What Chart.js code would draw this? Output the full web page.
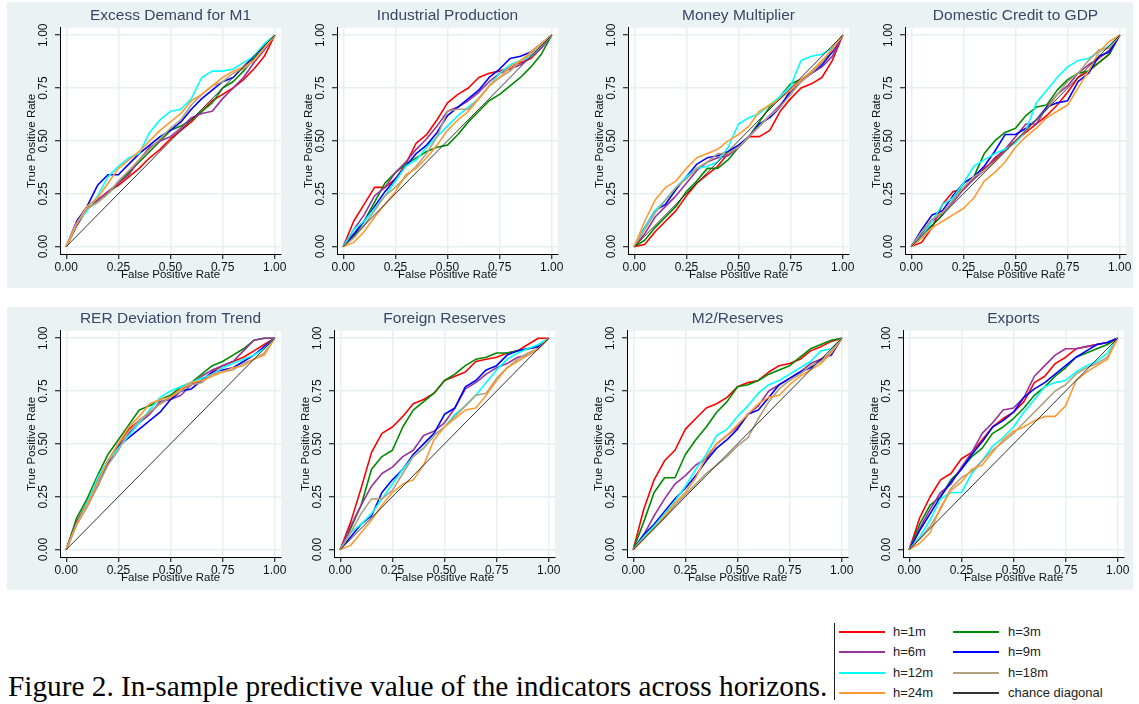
<!DOCTYPE html>
<html>
<head>
<meta charset="utf-8">
<script src="https://cdn.jsdelivr.net/npm/chart.js@4.4.1/dist/chart.umd.min.js"></script>
<style>
  body { margin: 0; width: 1139px; height: 704px; background: #fff; position: relative; overflow: hidden; font-family: "Liberation Sans", Arial, sans-serif; }
  .row { position: absolute; left: 7px; width: 1126px; background: #eaf2f3; }
  canvas { position: absolute; }
  .legend__bar { position: absolute; left: 834px; top: 623px; width: 1px; height: 77px; background: #222; }
  .legend__line { position: absolute; width: 46px; height: 2px; }
  .legend__text { position: absolute; font-size: 13px; color: #222; line-height: 13px; }
  .caption { position: absolute; left: 8px; top: 672px; font-family: "Liberation Serif", "Times New Roman", serif; font-size: 29.3px; line-height: 29px; color: #000; white-space: nowrap; }
</style>
</head>
<body>
<div class="row" style="top:2px;height:286px"></div>
<div class="row" style="top:307px;height:283px"></div>

<canvas id="c0" width="285" height="285" style="left:8px;top:3px"></canvas>
<canvas id="c1" width="285" height="285" style="left:285px;top:3px"></canvas>
<canvas id="c2" width="285" height="285" style="left:576px;top:3px"></canvas>
<canvas id="c3" width="285" height="285" style="left:853px;top:3px"></canvas>
<canvas id="c4" width="285" height="285" style="left:8px;top:306px"></canvas>
<canvas id="c5" width="285" height="285" style="left:282px;top:306px"></canvas>
<canvas id="c6" width="285" height="285" style="left:575px;top:306px"></canvas>
<canvas id="c7" width="285" height="285" style="left:851px;top:306px"></canvas>

<div class="legend__bar"></div>
<div id="legend"></div>
<div class="caption">Figure 2. In-sample predictive value of the indicators across horizons.</div>

<script>
// false positive rate grid shared by every curve
const fpr = [0, .05, .10, .15, .20, .25, .30, .35, .40, .45, .50, .55, .60, .65, .70, .75, .80, .85, .90, .95, 1];
const tickValues = [0, .25, .5, .75, 1];
const chanceDiagonal = [0, 1];

const horizons = ['h=1m', 'h=3m', 'h=6m', 'h=9m', 'h=12m', 'h=18m', 'h=24m'];
const lineColors = ['#ff0000', '#008a00', '#993399', '#0000ff', '#00ffff', '#b0a07c', '#ff9933'];

const panelTitles = ['Excess Demand for M1', 'Industrial Production', 'Money Multiplier', 'Domestic Credit to GDP',
                     'RER Deviation from Trend', 'Foreign Reserves', 'M2/Reserves', 'Exports'];

// true positive rate, one row per horizon (1m, 3m, 6m, 9m, 12m, 18m, 24m)
const excessDemandM1 = [
  [0, .10, .18, .22, .26, .29, .33, .37, .42, .46, .51, .55, .59, .64, .69, .72, .75, .79, .84, .90, 1],
  [0, .10, .18, .21, .25, .30, .35, .40, .45, .50, .55, .57, .60, .64, .68, .75, .78, .83, .89, .95, 1],
  [0, .10, .18, .22, .26, .30, .34, .41, .47, .50, .52, .56, .61, .63, .64, .70, .75, .80, .87, .93, 1],
  [0, .12, .19, .29, .34, .34, .39, .44, .48, .52, .55, .59, .65, .70, .74, .78, .80, .85, .90, .95, 1],
  [0, .11, .17, .24, .33, .38, .42, .44, .54, .60, .64, .65, .70, .80, .83, .83, .84, .87, .90, .96, 1],
  [0, .11, .18, .21, .25, .31, .36, .41, .46, .51, .56, .60, .67, .72, .76, .78, .82, .84, .88, .94, 1],
  [0, .11, .19, .23, .30, .37, .41, .45, .50, .55, .59, .63, .69, .72, .76, .80, .83, .85, .88, .94, 1]
];
const industrialProduction = [
  [0, .12, .20, .28, .28, .32, .39, .49, .53, .60, .68, .72, .75, .80, .82, .83, .85, .87, .89, .94, 1],
  [0, .05, .12, .21, .30, .35, .39, .42, .45, .47, .48, .53, .59, .64, .69, .72, .76, .80, .85, .91, 1],
  [0, .08, .15, .24, .28, .35, .40, .46, .51, .57, .64, .66, .69, .73, .78, .82, .84, .86, .90, .94, 1],
  [0, .06, .12, .19, .26, .32, .38, .44, .48, .54, .62, .66, .70, .74, .80, .84, .89, .90, .92, .96, 1],
  [0, .08, .12, .18, .24, .31, .38, .41, .47, .52, .57, .62, .66, .70, .76, .82, .86, .88, .90, .95, 1],
  [0, .04, .10, .17, .24, .28, .33, .38, .44, .52, .64, .65, .65, .70, .76, .80, .83, .88, .91, .96, 1],
  [0, .02, .07, .14, .20, .26, .34, .37, .42, .48, .55, .60, .64, .70, .76, .80, .85, .88, .92, .96, 1]
];
const moneyMultiplier = [
  [0, .01, .07, .12, .17, .24, .30, .34, .38, .44, .47, .52, .52, .55, .64, .70, .75, .77, .80, .88, 1],
  [0, .03, .09, .14, .19, .26, .31, .37, .37, .41, .47, .52, .59, .66, .71, .77, .79, .82, .87, .93, 1],
  [0, .06, .14, .19, .24, .30, .36, .40, .42, .43, .47, .52, .57, .62, .67, .73, .78, .82, .85, .90, 1],
  [0, .09, .17, .20, .27, .33, .39, .42, .43, .45, .48, .52, .58, .61, .66, .74, .79, .82, .86, .92, 1],
  [0, .09, .17, .22, .28, .33, .37, .38, .40, .47, .58, .61, .63, .67, .71, .76, .88, .90, .91, .94, 1],
  [0, .08, .16, .22, .28, .32, .37, .40, .44, .44, .47, .52, .57, .62, .66, .72, .78, .82, .87, .94, 1],
  [0, .12, .22, .28, .31, .37, .42, .44, .46, .50, .53, .57, .64, .67, .70, .74, .79, .83, .88, .93, 1]
];
const domesticCreditGdp = [
  [0, .02, .09, .20, .26, .27, .32, .37, .41, .46, .50, .54, .58, .62, .67, .73, .80, .83, .87, .91, 1],
  [0, .06, .10, .15, .22, .30, .33, .44, .50, .54, .56, .62, .66, .67, .74, .79, .82, .83, .87, .91, 1],
  [0, .06, .12, .16, .21, .27, .32, .36, .42, .46, .52, .58, .58, .66, .72, .76, .82, .86, .89, .93, 1],
  [0, .08, .15, .17, .24, .30, .33, .38, .45, .53, .53, .56, .60, .66, .68, .69, .78, .82, .90, .92, 1],
  [0, .05, .12, .20, .23, .30, .38, .41, .44, .46, .49, .55, .68, .74, .80, .85, .88, .89, .92, .95, 1],
  [0, .07, .13, .16, .22, .28, .33, .36, .40, .45, .50, .55, .60, .65, .72, .78, .82, .88, .93, .94, 1],
  [0, .04, .09, .12, .15, .18, .23, .31, .35, .40, .47, .52, .56, .61, .64, .67, .75, .83, .92, .97, 1]
];
const rerDeviation = [
  [0, .13, .22, .33, .42, .50, .57, .61, .65, .69, .72, .76, .78, .80, .84, .87, .89, .91, .94, .97, 1],
  [0, .15, .24, .35, .45, .52, .59, .66, .68, .71, .73, .77, .79, .83, .87, .89, .92, .95, .99, 1, 1],
  [0, .13, .22, .33, .42, .49, .55, .60, .64, .70, .71, .73, .78, .82, .85, .87, .89, .94, .99, 1, 1],
  [0, .12, .21, .30, .41, .49, .53, .57, .61, .65, .71, .75, .76, .80, .84, .85, .86, .89, .92, .96, 1],
  [0, .12, .22, .34, .42, .48, .54, .60, .66, .72, .75, .77, .79, .81, .83, .86, .88, .90, .92, .95, 1],
  [0, .12, .20, .30, .40, .47, .56, .61, .65, .69, .72, .75, .78, .79, .83, .84, .85, .88, .90, .93, 1],
  [0, .12, .21, .32, .42, .50, .58, .63, .69, .71, .72, .76, .79, .80, .82, .84, .86, .87, .90, .92, 1]
];
const foreignReserves = [
  [0, .13, .29, .46, .55, .58, .63, .69, .71, .74, .80, .82, .84, .89, .90, .91, .93, .94, .97, 1, 1],
  [0, .10, .21, .38, .44, .47, .58, .66, .70, .74, .80, .83, .87, .90, .91, .93, .93, .94, .95, .96, 1],
  [0, .11, .21, .30, .36, .39, .44, .47, .54, .56, .60, .67, .76, .79, .83, .86, .88, .91, .92, .95, 1],
  [0, .06, .12, .16, .27, .33, .38, .45, .50, .55, .64, .67, .77, .80, .85, .87, .92, .94, .95, .96, 1],
  [0, .08, .12, .17, .24, .31, .38, .44, .48, .54, .58, .64, .68, .73, .79, .85, .90, .93, .95, .97, 1],
  [0, .08, .17, .24, .24, .28, .36, .44, .48, .54, .58, .63, .68, .73, .74, .81, .86, .90, .93, .95, 1],
  [0, .02, .08, .14, .21, .27, .31, .33, .40, .52, .58, .62, .66, .67, .73, .80, .86, .89, .92, .95, 1]
];
const m2Reserves = [
  [0, .19, .33, .42, .47, .57, .62, .67, .69, .72, .77, .79, .80, .84, .87, .88, .90, .94, .96, .985, 1],
  [0, .13, .27, .34, .34, .45, .52, .58, .65, .70, .77, .78, .80, .83, .85, .87, .91, .95, .97, .99, 1],
  [0, .07, .16, .24, .31, .35, .40, .43, .50, .54, .58, .64, .68, .75, .78, .81, .84, .88, .90, .93, 1],
  [0, .07, .12, .18, .24, .29, .35, .42, .48, .52, .57, .64, .66, .72, .78, .81, .84, .86, .90, .92, 1],
  [0, .06, .11, .17, .23, .30, .38, .45, .54, .57, .63, .68, .74, .78, .80, .83, .86, .89, .94, .95, 1],
  [0, .05, .10, .15, .21, .26, .31, .36, .40, .44, .49, .53, .62, .70, .76, .80, .83, .87, .89, .94, 1],
  [0, .05, .10, .16, .22, .27, .34, .44, .50, .54, .59, .64, .69, .72, .73, .78, .82, .85, .88, .93, 1]
];
const exportsRoc = [
  [0, .15, .25, .33, .36, .43, .46, .52, .58, .62, .65, .70, .79, .82, .88, .91, .95, .96, .97, .98, 1],
  [0, .12, .21, .25, .33, .38, .44, .48, .55, .58, .62, .67, .73, .77, .82, .86, .91, .93, .95, .97, 1],
  [0, .10, .19, .27, .31, .39, .46, .55, .60, .66, .67, .72, .82, .87, .92, .95, .95, .96, .97, .98, 1],
  [0, .09, .17, .25, .32, .38, .45, .51, .58, .61, .65, .72, .76, .79, .83, .87, .91, .94, .97, .98, 1],
  [0, .06, .14, .24, .27, .27, .36, .42, .49, .53, .58, .65, .71, .77, .79, .80, .84, .87, .89, .93, 1],
  [0, .05, .11, .19, .29, .34, .37, .42, .47, .51, .55, .60, .65, .70, .75, .78, .83, .86, .88, .91, 1],
  [0, .03, .08, .20, .28, .32, .38, .40, .46, .52, .56, .58, .61, .63, .63, .68, .80, .84, .87, .90, 1]
];

const panels = [excessDemandM1, industrialProduction, moneyMultiplier, domesticCreditGdp,
                rerDeviation, foreignReserves, m2Reserves, exportsRoc];

Chart.defaults.font.family = '"Liberation Sans", Arial, sans-serif';

// white plot region, like Stata's plotregion
const plotBg = {
  id: 'plotBg',
  beforeDraw(chart) {
    const { ctx, chartArea: a } = chart;
    ctx.save();
    ctx.fillStyle = '#fff';
    ctx.fillRect(a.left, a.top, a.right - a.left, a.bottom - a.top);
    ctx.restore();
  }
};

function axisOpts(min, max, label) {
  return {
    type: 'linear', min: min, max: max,
    afterBuildTicks: s => { s.ticks = tickValues.map(v => ({ value: v })); },
    grid: { color: '#e6eff1', lineWidth: 1.5, tickLength: 5, tickColor: '#000', tickWidth: 1 },
    border: { color: '#000', width: 1 },
    ticks: { color: '#111', font: { size: 12 }, autoSkip: false, callback: v => v.toFixed(2) },
    title: { display: true, text: label, color: '#111', font: { size: 11.5 } }
  };
}

panels.forEach((rows, p) => {
  const datasets = rows.map((tpr, k) => ({
    label: horizons[k],
    data: fpr.map((x, i) => ({ x: x, y: tpr[i] })),
    borderColor: lineColors[k],
    borderWidth: 1.6,
    order: 7 - k
  }));
  datasets.push({
    label: 'chance diagonal',
    data: chanceDiagonal.map(v => ({ x: v, y: v })),
    borderColor: '#333',
    borderWidth: 1,
    order: 0
  });

  const x = axisOpts(-0.03, 1.03, 'False Positive Rate');
  x.afterFit = s => { s.height = 34; };
  x.ticks.padding = 1;
  x.ticks.maxRotation = 0;
  x.title.padding = { top: 0, bottom: 6 };

  const y = axisOpts(-0.035, 1.035, 'True Positive Rate');
  y.afterFit = s => { s.width = 52; };
  y.ticks.minRotation = 90;
  y.ticks.maxRotation = 90;
  y.ticks.crossAlign = 'center';
  y.ticks.padding = 0;
  y.title.padding = { top: 17, bottom: 0 };

  new Chart(document.getElementById('c' + p), {
    type: 'line',
    data: { datasets: datasets },
    options: {
      responsive: false,
      animation: false,
      layout: { padding: { top: 0, right: 12, bottom: 0, left: 0 } },
      elements: { point: { radius: 0 }, line: { tension: 0, borderJoinStyle: 'round' } },
      plugins: {
        legend: { display: false },
        tooltip: { enabled: false },
        title: {
          display: true, text: panelTitles[p], fullSize: false,
          color: '#3b4668', font: { size: 15.5, weight: 'normal' },
          padding: { top: 3, bottom: 3.2 }
        }
      },
      scales: { x: x, y: y }
    },
    plugins: [plotBg]
  });
});

// shared legend, two columns, filled row by row
const legendEl = document.getElementById('legend');
const legendNames = horizons.concat(['chance diagonal']);
const legendColors = lineColors.concat(['#333']);
legendNames.forEach((name, i) => {
  const col = i % 2, row = Math.floor(i / 2);
  const yMid = 632 + row * 20.3;
  legendEl.insertAdjacentHTML('beforeend',
    `<div class="legend__line" style="left:${839 + col * 114}px;top:${yMid - 1}px;background:${legendColors[i]}"></div>
     <div class="legend__text" style="left:${893 + col * 115}px;top:${yMid - 7}px">${name}</div>`);
});
</script>
</body>
</html>
